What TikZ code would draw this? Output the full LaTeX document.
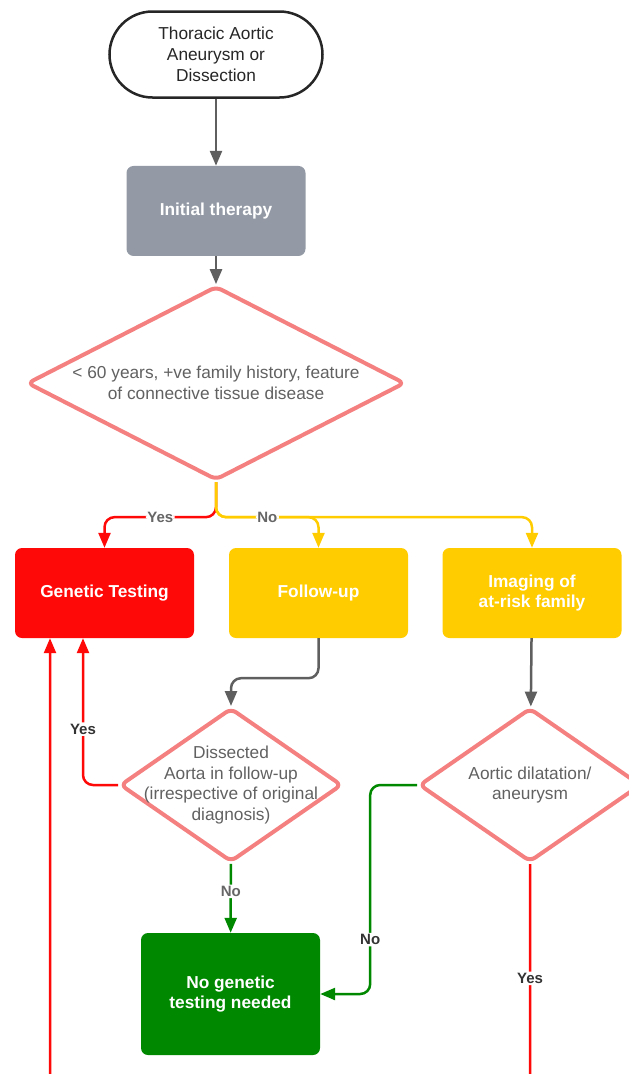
\documentclass[tikz,border=0pt]{standalone}
\usepackage{fontspec}
\setmainfont{Liberation Sans}
\usepackage{tikz}
\usetikzlibrary{positioning}
\usetikzlibrary{shapes.geometric}
\usetikzlibrary{arrows.meta}
\definecolor{salmon}{RGB}{245,128,128}
\definecolor{slate}{RGB}{147,154,165}
\definecolor{amber}{RGB}{255,204,0}
\definecolor{leaf}{RGB}{0,136,0}
\definecolor{signal}{RGB}{255,8,8}
\definecolor{ink}{RGB}{95,95,95}
\newcommand{\txtsize}{\fontsize{17.3}{20.7}\selectfont}
\tikzset{term/.style={draw=black!85, line width=2.5pt, rounded corners=43pt, minimum width=213pt, minimum height=86pt, align=center, font=\txtsize, text=black!85}}
\tikzset{proc/.style={rounded corners=7pt, minimum width=179pt, minimum height=90pt, align=center, text=white, font=\txtsize\bfseries}}
\tikzset{decision/.style={diamond, draw=salmon, line width=4pt, rounded corners=6pt, aspect=1.9, align=center, text=black!62, font=\txtsize}}
\tikzset{lbl/.style={fill=white, inner sep=1.5pt, font=\fontsize{15}{18}\selectfont\bfseries, text=black!60}}
\tikzset{flow/.style={line width=2.5pt, rounded corners=10pt, -{Triangle[length=15pt,width=12pt]}}}

\begin{document}
\begin{tikzpicture}[x=1pt, y=-1pt, node distance=28pt]
\path[use as bounding box] (0,0) rectangle (629,1074);
\clip (0,0) rectangle (629,1074);
\node[term] (start) at (216,54.5) {Thoracic Aortic\\Aneurysm or\\Dissection};
\node[proc, fill=slate, below=67pt of start] (init) {Initial therapy};
\node[decision, inner xsep=-140pt, inner ysep=-18pt, minimum width=378pt, minimum height=194pt, below=of init] (risk) {< 60 years, +ve family history, feature\\of connective tissue disease};
%
\node[proc, fill=signal] (genetic) at (104.5,593) {Genetic Testing};
\node[proc, fill=amber] (follow) at (318.5,593) {Follow-up};
\node[proc, fill=amber] (imaging) at (532,593) {Imaging of\\at-risk family};
%
\node[decision, inner xsep=-84pt, inner ysep=-40pt, minimum width=222pt, minimum height=154pt] (dissect) at (231,785) {Dissected\\Aorta in follow-up\\(irrespective of original\\diagnosis)};
\node[decision, inner xsep=-60pt, inner ysep=-18pt, minimum width=222pt, minimum height=154pt] (dilat) at (530,785) {Aortic dilatation/\\aneurysm};
\node[proc, fill=leaf, minimum height=122pt] (nogen) at (230.5,994) {No genetic\\testing needed};

\draw[flow, ink] (start) -- (init);
\draw[flow, ink] (init) -- (risk);
\draw[flow, signal] (risk.south) -- ++(0,35) -| node[lbl, pos=0.25] {Yes} (genetic.north);
\draw[flow, amber] (risk.south) -- ++(0,35) -| (imaging.north);
\draw[flow, amber] (risk.south) -- ++(0,35) -| node[lbl, pos=0.25] {No} (follow.north);
\draw[flow, ink] (follow.south) -- ++(0,40) -| (dissect.north);
\draw[flow, ink] (imaging) -- (dilat);
\draw[flow, signal] (dissect.west) -| node[lbl, pos=0.69, text=black!80] {Yes} ([xshift=-21.5pt]genetic.south);
\draw[flow, leaf] (dissect) -- node[lbl, pos=0.4] {No} (nogen);
\draw[flow, leaf] (dilat.west) -| node[lbl, pos=0.87, text=black!80] {No} ([xshift=50pt]nogen.east) -- (nogen.east);
\draw[flow, signal] (dilat.south) -- node[lbl, pos=0.44, text=black!80] {Yes} ++(0,260) -| ([xshift=-54.5pt]genetic.south);
\end{tikzpicture}
\end{document}
